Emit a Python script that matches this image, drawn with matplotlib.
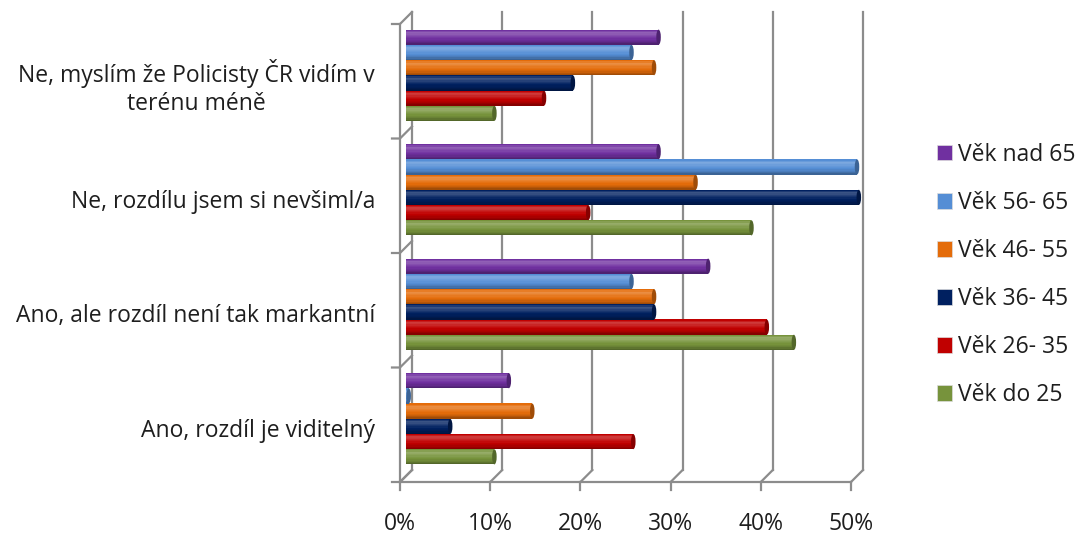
import numpy as np
import matplotlib
matplotlib.use("Agg")
import matplotlib.pyplot as plt
from matplotlib.transforms import ScaledTranslation
from matplotlib.patches import Ellipse
from matplotlib.colors import to_rgb

plt.rcParams['font.family'] = ['Open Sans', 'DejaVu Sans']

# categories bottom -> top
categories = ["Ano, rozdíl je viditelný",
              "Ano, ale rozdíl není tak markantní",
              "Ne, rozdílu jsem si nevšiml/a",
              "Ne, myslím že Policisty ČR vidím v\nterénu méně"]
# series bottom -> top within each group
series_names = ["Věk do 25", "Věk 26- 35", "Věk 36- 45", "Věk 46- 55", "Věk 56- 65", "Věk nad 65"]
series_colors = ["#77933C", "#C00000", "#002060", "#E46C0A", "#558ED5", "#7030A0"]
do25 = [9.8, 43.0, 38.3, 9.8]
v26_35 = [25.2, 40.0, 20.2, 15.3]
v36_45 = [4.9, 27.5, 50.2, 18.5]
v46_55 = [14.0, 27.5, 32.1, 27.5]
v56_65 = [0.3, 25.0, 50.0, 25.0]
nad65 = [11.4, 33.5, 28.0, 28.0]
values = [do25, v26_35, v36_45, v46_55, v56_65, nad65]
xticks = [0, 10, 20, 30, 40, 50]
xticklabels = ["0%", "10%", "20%", "30%", "40%", "50%"]

W, H = 1081, 535
FS = 16.5
txt_col = "#1e1e1e"
fig = plt.figure(figsize=(W / 100, H / 100), dpi=100)
# bars live at mid depth; front/back planes offset by 6 px
ax = fig.add_axes([406 / W, 1 - 476 / H, 451 / W, 458 / H])
ax.set_xlim(0, 50)
ax.set_ylim(-0.5, 3.5)
ax.axis("off")

px = 1 / 100.0
back = ax.transData + ScaledTranslation(6 * px, 6 * px, fig.dpi_scale_trans)
front = ax.transData + ScaledTranslation(-6 * px, -6 * px, fig.dpi_scale_trans)
grid_col = "#8c8c8c"

# back wall gridlines
for t in xticks:
    ax.plot([t, t], [-0.5, 3.5], color=grid_col, lw=1.6, transform=back, zorder=1, clip_on=False)
# floor: front line, depth lines, ticks
ax.plot([0, 50], [-0.5, -0.5], color=grid_col, lw=1.6, transform=front, zorder=1, clip_on=False)
for t, lab in zip(xticks, xticklabels):
    x0, y0 = front.transform((t, -0.5))
    x1, y1 = back.transform((t, -0.5))
    fig.add_artist(plt.Line2D([x0 / W, x1 / W], [y0 / H, y1 / H], color=grid_col, lw=1.6))
    fig.add_artist(plt.Line2D([x0 / W, x0 / W], [y0 / H, (y0 - 8) / H], color=grid_col, lw=1.6))
    ax.text(t, -0.5, lab, transform=front + ScaledTranslation(0, -42 * px, fig.dpi_scale_trans),
            ha="center", va="center", fontsize=FS, color=txt_col)
# left wall
ax.plot([0, 0], [-0.5, 3.5], color=grid_col, lw=1.6, transform=front, zorder=1, clip_on=False)
for k in np.arange(-0.5, 4.0, 1.0):
    x0, y0 = front.transform((0, k))
    x1, y1 = back.transform((0, k))
    fig.add_artist(plt.Line2D([(x0 - 8) / W, x0 / W, x1 / W], [y0 / H, y0 / H, y1 / H],
                              color=grid_col, lw=1.6))

# category labels
for i, c in enumerate(categories):
    ax.text(0, i, c, transform=front + ScaledTranslation(-25 * px, -6 * px, fig.dpi_scale_trans),
            ha="right", va="center", multialignment="center", fontsize=FS,
            color=txt_col, linespacing=1.2)


def shade(col, f):
    r = np.array(to_rgb(col))
    if f >= 0:
        return tuple(r + (1 - r) * f)
    return tuple(r * (1 + f))


step = 0.133
bh = 0.132
nstrip = 12
prof_t = np.linspace(0, 1, nstrip)
# cylinder shading, top -> bottom
prof = np.interp(prof_t, [0, 0.2, 0.4, 0.8, 1.0], [0.0, 0.25, 0.12, -0.1, -0.3])
for j, (vals, col) in enumerate(zip(values, series_colors)):
    ys = np.arange(len(categories)) + (j - 2.5) * step
    for s in range(nstrip):
        yc = ys + bh / 2 - (s + 0.5) * bh / nstrip
        ax.barh(yc, vals, height=bh / nstrip * 1.15, color=shade(col, prof[s]),
                lw=0, zorder=3 + j, clip_on=False)
    for y, v in zip(ys, vals):
        ax.add_patch(Ellipse((v, y), 0.5, bh, facecolor=shade(col, -0.3),
                             edgecolor="none", zorder=3 + j, clip_on=False))

# legend
handles = [plt.Rectangle((0, 0), 1, 1, facecolor=c, edgecolor="#dddddd", lw=0.5)
           for c in series_colors]
leg = fig.legend(handles[::-1], series_names[::-1], loc="center left",
                 bbox_to_anchor=(916 / W, 1 - 275 / H), frameon=False, fontsize=FS,
                 handlelength=0.65, handleheight=0.65, handletextpad=0.3,
                 labelspacing=1.05, labelcolor=txt_col)

fig.savefig("out.png", dpi=100)
